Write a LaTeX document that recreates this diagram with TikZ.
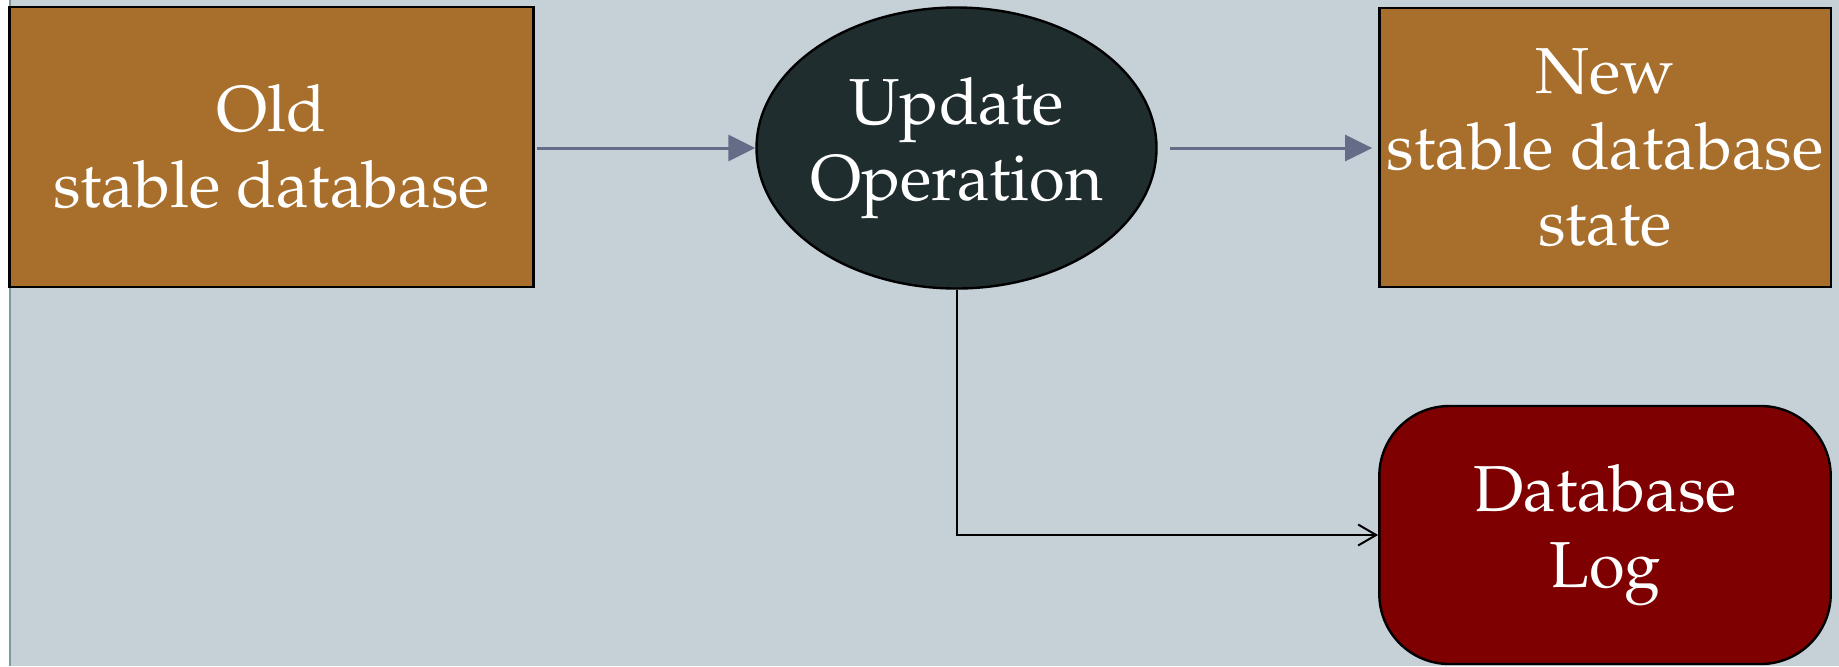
\documentclass[tikz,border=0pt]{standalone}
\usepackage[T1]{fontenc}
\usepackage{mathpazo}
\usetikzlibrary{shapes.geometric,arrows.meta}
\definecolor{canvas}{HTML}{C5D0D7}
\definecolor{rim}{HTML}{7F9A9C}
\definecolor{ochre}{HTML}{A86E2C}
\definecolor{slate}{HTML}{1F2D2E}
\definecolor{maroon}{HTML}{7F0000}
\definecolor{flow}{HTML}{666C88}
\tikzset{
  label text/.style={text=white, align=center, font=\fontsize{32.5}{38}\selectfont, inner sep=0pt},
  storebox/.style={label text, draw=black, line width=1.2pt, fill=ochre,
    minimum width=225.7pt, minimum height=139.5pt},
  process/.style={label text, ellipse, draw=black, line width=1.2pt, fill=slate,
    inner xsep=-4pt, minimum width=200pt, minimum height=140.5pt},
  logbox/.style={label text, draw=black, line width=1.2pt, fill=maroon, rounded corners=35pt,
    minimum width=225.7pt, minimum height=129pt},
  flowarrow/.style={draw=flow, line width=1.5pt, -{Triangle[length=13.5pt,width=13pt]}},
  logarrow/.style={draw=black, line width=1pt, -{Straight Barb[length=9pt,width=10.5pt,line width=1pt]}}
}
\begin{document}
\begin{tikzpicture}[x=0.5pt,y=-0.5pt]
  % page and canvas
  \useasboundingbox (0,0) rectangle (1839,666);
  \fill[white] (0,0) rectangle (1839,666);
  \fill[canvas] (9,0) rectangle (1839,666);
  \draw[rim, line width=1pt] (10,0) -- (10,666);

  % nodes
  \node[storebox, minimum width=262pt, minimum height=140pt] (old) at (271.5,147) {Old\\stable database};
  \node[process] (op) at (956.5,148) {Update\\Operation};
  \node[storebox] (new) at (1605,147.7) {New\\stable database\\state};
  \node[logbox] (log) at (1605,535) {Database\\Log};

  % connectors
  \draw[flowarrow, shorten <=1pt] (old.east |- op.west) -- (op.west);
  \draw[flowarrow, shorten <=6pt, shorten >=3pt] (op.east) -- (new.west |- op.east);
  \draw[logarrow] (op.south) |- (log.west);
\end{tikzpicture}
\end{document}
